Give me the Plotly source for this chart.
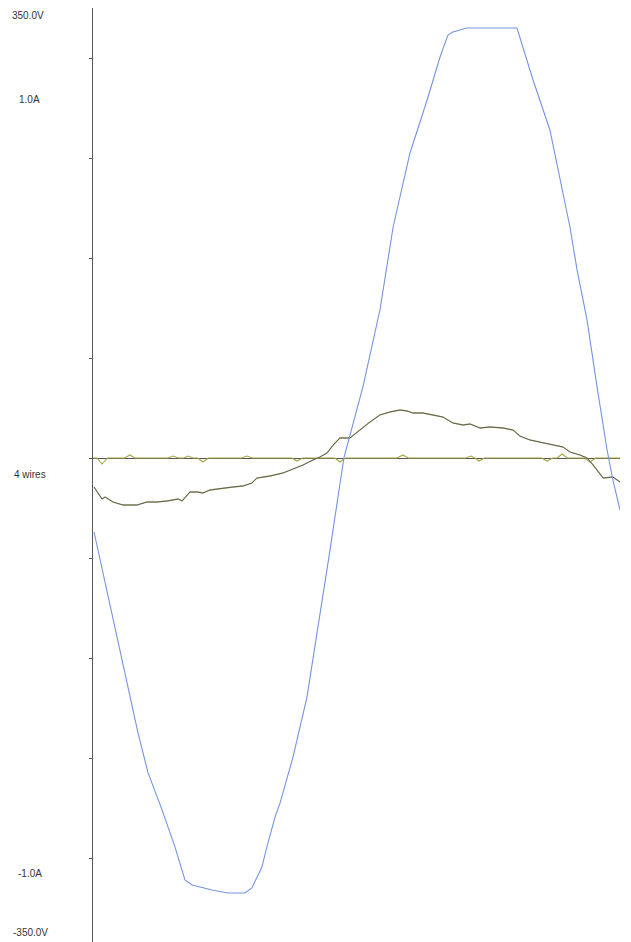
import plotly.graph_objects as go

# ---- data (time in ms, voltage in V, current in A) ----
volt_t = [0.04, 0.46, 0.95, 1.33, 1.71, 2.09, 2.62, 3.11, 3.49, 3.76, 4.52, 5.12, 5.77, 6.03,
          6.41, 6.60, 6.91, 7.10, 7.59, 8.12, 8.61, 8.99, 9.52, 10.25, 10.89, 11.39, 12.03,
          12.68, 13.17, 13.47, 13.66, 14.19, 16.09, 16.70, 17.34, 17.72, 18.10, 18.37, 18.75,
          19.13, 19.51, 19.73, 20.0]
volt_v = [-58.2, -98.3, -143.1, -180.1, -216.3, -247.7, -276.8, -305.9, -331.9, -335.8, -339.8,
          -342.1, -342.1, -338.2, -321.7, -305.9, -282.3, -271.3, -235.2, -188.0, -125.0, -73.0,
          0.0, 56.6, 116.4, 181.7, 239.9, 281.6, 315.4, 332.7, 335.0, 338.2, 338.2, 297.3,
          258.0, 221.0, 181.7, 147.9, 108.5, 55.8, 6.3, -17.3, -40.9]

cur_t = [0.04, 0.34, 0.46, 0.76, 1.14, 1.67, 2.05, 2.43, 2.81, 3.23, 3.38, 3.68, 3.98, 4.17,
         4.44, 4.93, 5.31, 5.69, 6.03, 6.22, 6.72, 7.21, 7.59, 7.97, 8.35, 8.61, 8.88, 9.15,
         9.37, 9.75, 10.13, 10.51, 10.89, 11.27, 11.65, 11.92, 12.14, 12.52, 12.90, 13.28,
         13.66, 14.04, 14.31, 14.69, 15.07, 15.56, 15.94, 16.20, 16.58, 17.08, 17.46, 17.84,
         18.10, 18.48, 18.75, 18.98, 19.36, 19.73, 20.0]
cur_i = [-0.0725, -0.1025, -0.0975, -0.110, -0.1175, -0.1175, -0.110, -0.110, -0.1075, -0.1025,
         -0.1075, -0.085, -0.085, -0.0875, -0.080, -0.075, -0.0725, -0.070, -0.0625, -0.050,
         -0.045, -0.0375, -0.0275, -0.0175, -0.005, 0.0025, 0.0125, 0.035, 0.05, 0.05, 0.07,
         0.09, 0.1075, 0.115, 0.12, 0.1175, 0.1125, 0.1125, 0.1075, 0.1025, 0.0875, 0.0825,
         0.085, 0.075, 0.0775, 0.075, 0.070, 0.055, 0.045, 0.0375, 0.0325, 0.0275, 0.015,
         0.0075, 0.0, -0.0175, -0.05, -0.0475, -0.06]

noise_t = [0.0, 0.15, 0.34, 0.55, 1.20, 1.40, 1.60, 2.85, 3.04, 3.25, 3.45, 3.61, 3.80, 3.98,
           4.17, 4.38, 5.65, 5.84, 6.05, 7.55, 7.74, 7.95, 9.18, 9.37, 9.58, 11.55, 11.76,
           11.97, 14.15, 14.35, 14.50, 14.65, 14.85, 17.03, 17.23, 17.45, 17.62, 17.80, 18.00,
           18.66, 18.86, 19.07, 20.0]
noise_i = [0.0, 0.0, -0.015, 0.0, 0.0, 0.0075, 0.0, 0.0, 0.005, 0.0, 0.0, 0.005, 0.0, 0.0,
           -0.01, 0.0, 0.0, 0.005, 0.0, 0.0, -0.0075, 0.0, 0.0, -0.01, 0.0, 0.0, 0.0075,
           0.0, 0.0, 0.005, 0.0, -0.0075, 0.0, 0.0, -0.0075, 0.0, 0.0, 0.01, 0.0,
           0.0, -0.01, 0.0, 0.0]

tick_amps = [-1.0, -0.75, -0.5, -0.25, 0.0, 0.25, 0.5, 0.75, 1.0]
label_texts = ["350.0V", "1.0A", "4 wires", "-1.0A", "-350.0V"]
label_px = [(10, 16), (17, 100), (12, 474), (16, 873), (11, 932)]   # page pixels

# ---- layout geometry (page pixels; page body has an 8px offset) ----
OFF = 8
W, H = 631 - OFF, 942 - OFF
L, R, T, B = 93 - OFF, 11, 0, 0
zero_px = 458 - OFF
amp_per_px = 0.0025
volt_per_px = 350.0 / 445.0
above = zero_px - T
below = (H - B) - zero_px

fig = go.Figure()
fig.add_trace(go.Scatter(x=noise_t, y=noise_i, mode="lines", yaxis="y",
                         line=dict(color="#a8a540", width=1.1), hoverinfo="skip"))
fig.add_trace(go.Scatter(x=cur_t, y=cur_i, mode="lines", yaxis="y",
                         line=dict(color="#b4b478", width=1.3), hoverinfo="skip"))
fig.add_trace(go.Scatter(x=cur_t, y=cur_i, mode="lines", yaxis="y",
                         line=dict(color="#4a4a4a", width=0.8), hoverinfo="skip"))
fig.add_trace(go.Scatter(x=volt_t, y=volt_v, mode="lines", yaxis="y2",
                         line=dict(color="#7494e0", width=1.1), hoverinfo="skip"))

annotations = []
for txt, (px, py) in zip(label_texts, label_px):
    annotations.append(dict(
        text=txt, xref="paper", yref="paper",
        x=(px - OFF - L) / (W - L - R), y=((H - B) - (py - OFF)) / (H - T - B),
        xanchor="left", yanchor="middle", showarrow=False,
        font=dict(family="Liberation Sans, Arial, sans-serif", size=10, color="#333333")))

fig.update_layout(
    width=W, height=H, autosize=False,
    margin=dict(l=L, r=R, t=T, b=B, pad=0),
    paper_bgcolor="white", plot_bgcolor="white",
    showlegend=False,
    xaxis=dict(range=[0, 20], visible=False, showgrid=False, zeroline=False),
    yaxis=dict(range=[-below * amp_per_px, above * amp_per_px],
               showgrid=False, showticklabels=False,
               tickmode="array", tickvals=tick_amps, ticks="outside", ticklen=3,
               tickcolor="#555555", tickwidth=1,
               showline=True, linecolor="#5a5a5a", linewidth=1,
               zeroline=True, zerolinecolor="#555555", zerolinewidth=1.4,
               layer="above traces"),
    yaxis2=dict(range=[-below * volt_per_px, above * volt_per_px], overlaying="y",
                visible=False, showgrid=False, zeroline=False),
    annotations=annotations,
)

fig.write_html("out.html")
